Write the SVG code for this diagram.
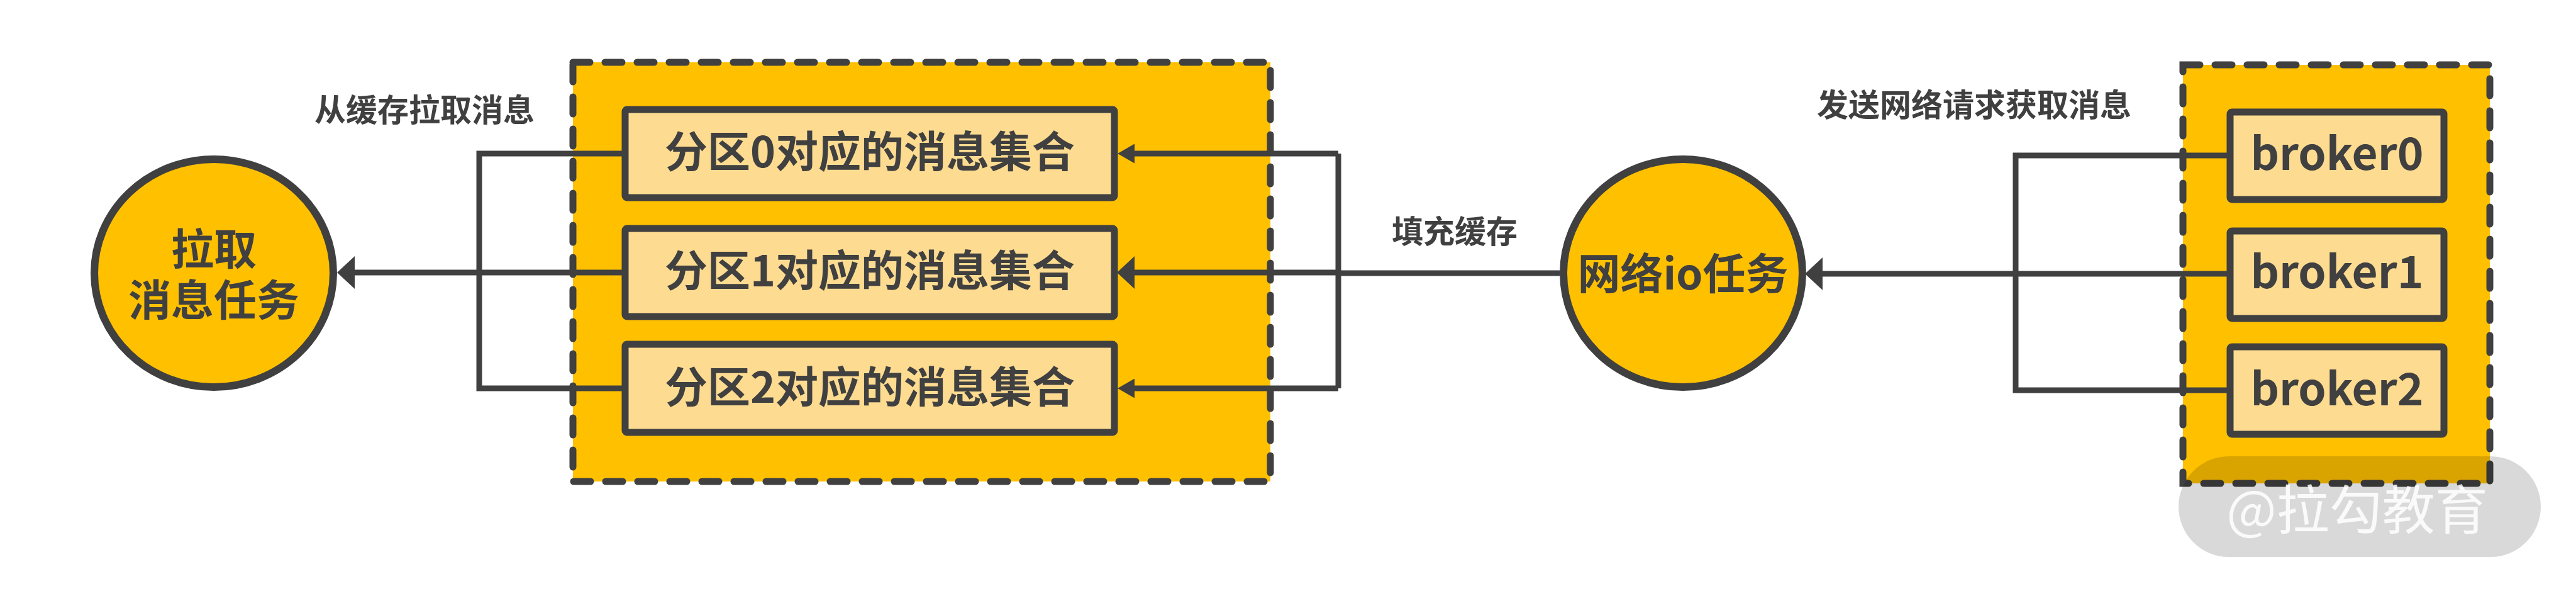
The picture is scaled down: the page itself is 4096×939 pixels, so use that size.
<svg xmlns="http://www.w3.org/2000/svg" width="4096" height="939" viewBox="0 0 4096 939">
<style>
  .t { font-family: "Noto Sans CJK SC", "Noto Sans", sans-serif; font-weight: 700; fill: #404040; text-anchor: middle; }
  .big { font-size: 68px; }
  .brk { font-size: 71px; }
  .lbl { font-size: 50px; }
  .cont { fill: #FFC000; stroke: #404040; stroke-width: 11; stroke-dasharray: 27 24; stroke-linecap: round; }
  .box { fill: #FDDB90; stroke: #404040; stroke-width: 11; }
  .circ { fill: #FFC000; stroke: #404040; stroke-width: 12; }
  .conn { fill: none; stroke: #404040; stroke-width: 9; stroke-linejoin: miter; }
</style>
<defs>
  <marker id="ahBig" markerUnits="userSpaceOnUse" markerWidth="28" markerHeight="52" viewBox="0 0 28 52" refX="0" refY="26" orient="auto">
    <path d="M0,0 L28,26 L0,52 Z" fill="#404040"/>
  </marker>
  <marker id="ahSmall" markerUnits="userSpaceOnUse" markerWidth="27" markerHeight="31" viewBox="0 0 27 31" refX="0" refY="15.5" orient="auto">
    <path d="M0,0 L27,15.5 L0,31 Z" fill="#404040"/>
  </marker>
</defs>
<rect width="4096" height="939" fill="#FFFFFF"/>

<g id="cache-container">
  <rect class="cont" x="911" y="99" width="1109" height="666"/>
</g>
<g id="broker-container">
  <rect class="cont" x="3471" y="103" width="488" height="665"/>
</g>

<g id="connectors">
  <path class="conn" d="M994,244 H762 V617 H994"/>
  <path class="conn" d="M994,433 H564" marker-end="url(#ahBig)"/>
  <path class="conn" d="M2128,244 V617"/>
  <path class="conn" d="M2128,244 H1804" marker-end="url(#ahSmall)"/>
  <path class="conn" d="M2128,433 H1804" marker-end="url(#ahBig)"/>
  <path class="conn" d="M2128,617 H1804" marker-end="url(#ahSmall)"/>
  <path class="conn" d="M2480,434 H2128"/>
  <path class="conn" d="M3546,247 H3205 V620 H3546"/>
  <path class="conn" d="M3546,435 H2898" marker-end="url(#ahBig)"/>
</g>

<g id="pull-task">
  <ellipse class="circ" cx="340" cy="434" rx="190" ry="181"/>
  <text class="t big" x="340" y="421"><tspan x="340" y="421">拉取</tspan><tspan x="340" y="502">消息任务</tspan></text>
</g>

<g id="partition0">
  <rect class="box" x="994" y="174" width="778" height="140" rx="3"/>
  <text class="t big" x="1383" y="266">分区0对应的消息集合</text>
</g>
<g id="partition1">
  <rect class="box" x="994" y="363" width="778" height="140" rx="3"/>
  <text class="t big" x="1383" y="455">分区1对应的消息集合</text>
</g>
<g id="partition2">
  <rect class="box" x="994" y="547" width="778" height="140" rx="3"/>
  <text class="t big" x="1383" y="640">分区2对应的消息集合</text>
</g>

<g id="network-io-task">
  <ellipse class="circ" cx="2676" cy="434" rx="190" ry="181"/>
  <text class="t big" x="2676" y="460">网络io任务</text>
</g>

<g id="broker0">
  <rect class="box" x="3546" y="178" width="340" height="139" rx="3"/>
  <text class="t brk" x="3716" y="270">broker0</text>
</g>
<g id="broker1">
  <rect class="box" x="3546" y="367" width="340" height="139" rx="3"/>
  <text class="t brk" x="3716" y="458">broker1</text>
</g>
<g id="broker2">
  <rect class="box" x="3546" y="551" width="340" height="139" rx="3"/>
  <text class="t brk" x="3716" y="644">broker2</text>
</g>

<g id="labels">
  <text class="t lbl" x="675" y="193">从缓存拉取消息</text>
  <text class="t lbl" x="2313" y="386">填充缓存</text>
  <text class="t lbl" x="3139" y="185">发送网络请求获取消息</text>
</g>

<g id="watermark">
  <rect x="3464" y="725" width="576" height="160" rx="80" fill="#000000" fill-opacity="0.15"/>
  <text x="3748" y="841" font-family="Noto Sans CJK SC, Noto Sans, sans-serif" font-size="84" font-weight="400" fill="#FFFFFF" fill-opacity="0.85" text-anchor="middle">@拉勾教育</text>
</g>
</svg>
